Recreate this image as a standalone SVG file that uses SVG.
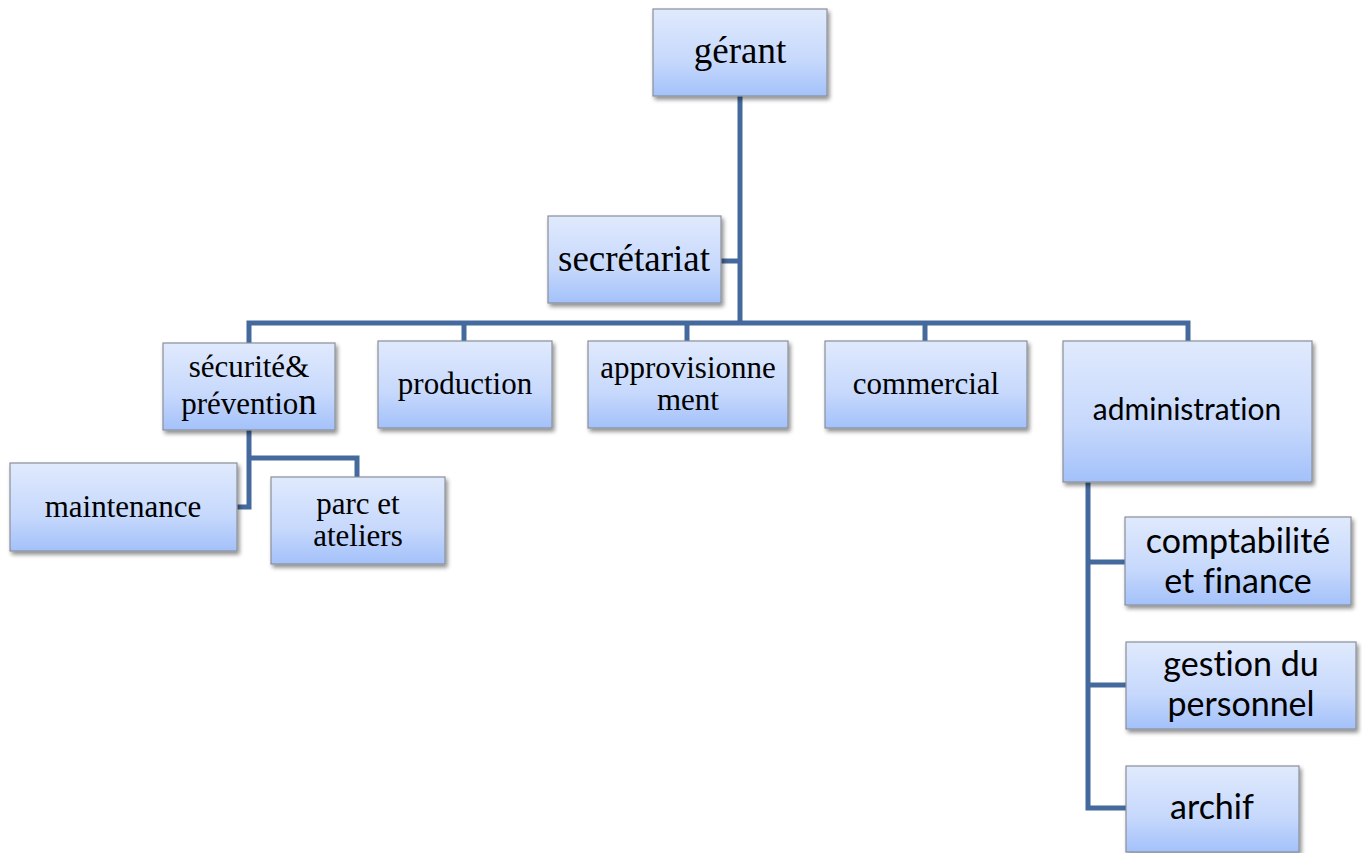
<svg xmlns="http://www.w3.org/2000/svg" width="1362" height="853" viewBox="0 0 1362 853">
<defs>
<linearGradient id="g" x1="0" y1="0" x2="0" y2="1">
<stop offset="0" stop-color="#e0eafd"/>
<stop offset="0.6" stop-color="#c6d8fc"/>
<stop offset="1" stop-color="#a3c1fa"/>
</linearGradient>
<filter id="sh" x="-10%" y="-10%" width="125%" height="130%">
<feGaussianBlur in="SourceAlpha" stdDeviation="2"/>
<feOffset dx="2" dy="3" result="o"/>
<feComponentTransfer><feFuncA type="linear" slope="0.45"/></feComponentTransfer>
<feMerge><feMergeNode/><feMergeNode in="SourceGraphic"/></feMerge>
</filter>
</defs>
<style>
.box{fill:url(#g);stroke:#8a8f99;stroke-width:1.2;filter:url(#sh)}
.ser{font-family:"Liberation Serif","Times New Roman",serif;fill:#000;text-anchor:middle}
.sans{font-family:Lato,"Open Sans","Liberation Sans",sans-serif;fill:#000;text-anchor:middle;font-variant-ligatures:none}
.c{fill:none;stroke:#44699c;stroke-width:5;stroke-linejoin:miter}
</style>
<g id="connectors">
<path class="c" d="M740 96 V323"/>
<path class="c" d="M721 261 H740"/>
<path class="c" d="M249 343 V323 H1188 V341"/>
<path class="c" d="M464 323 V341"/>
<path class="c" d="M687 323 V341"/>
<path class="c" d="M925 323 V341"/>
<path class="c" d="M249 430 V507 H237"/>
<path class="c" d="M249 458 H357 V477"/>
<path class="c" d="M1088 482 V808 H1126"/>
<path class="c" d="M1088 562 H1125"/>
<path class="c" d="M1088 685 H1126"/>
</g>
<g id="gerant"><rect class="box" x="653" y="9" width="174" height="87"/><text class="ser" x="740" y="63" font-size="37">gérant</text></g>
<g id="secretariat"><rect class="box" x="548" y="216" width="173" height="87"/><text class="ser" x="634" y="271" font-size="37">secrétariat</text></g>
<g id="securite"><rect class="box" x="163" y="343" width="172" height="87"/><text class="ser" x="249" y="377" font-size="31">sécurité&amp;</text><text class="ser" x="249" y="414" font-size="31">préventio<tspan font-size="37">n</tspan></text></g>
<g id="production"><rect class="box" x="378" y="341" width="174" height="87"/><text class="ser" x="465" y="394" font-size="31">production</text></g>
<g id="approvisionnement"><rect class="box" x="588" y="341" width="200" height="87"/><text class="ser" x="688" y="378" font-size="31">approvisionne</text><text class="ser" x="688" y="410" font-size="31">ment</text></g>
<g id="commercial"><rect class="box" x="825" y="341" width="202" height="87"/><text class="ser" x="926" y="394" font-size="31">commercial</text></g>
<g id="administration"><rect class="box" x="1063" y="341" width="249" height="141"/><text class="sans" x="1187" y="420" font-size="30">administration</text></g>
<g id="maintenance"><rect class="box" x="10" y="463" width="227" height="88"/><text class="ser" x="123" y="517" font-size="31">maintenance</text></g>
<g id="parc"><rect class="box" x="271" y="477" width="174" height="87"/><text class="ser" x="358" y="514" font-size="31">parc et</text><text class="ser" x="358" y="546" font-size="31">ateliers</text></g>
<g id="comptabilite"><rect class="box" x="1125" y="517" width="226" height="88"/><text class="sans" x="1238" y="553" font-size="34">comptabilité</text><text class="sans" x="1238" y="593" font-size="34">et finance</text></g>
<g id="gestion"><rect class="box" x="1126" y="642" width="230" height="87"/><text class="sans" x="1241" y="676" font-size="34">gestion du</text><text class="sans" x="1241" y="716" font-size="34">personnel</text></g>
<g id="archif"><rect class="box" x="1126" y="766" width="173" height="86"/><text class="sans" x="1212" y="819" font-size="34">archif</text></g>
</svg>
